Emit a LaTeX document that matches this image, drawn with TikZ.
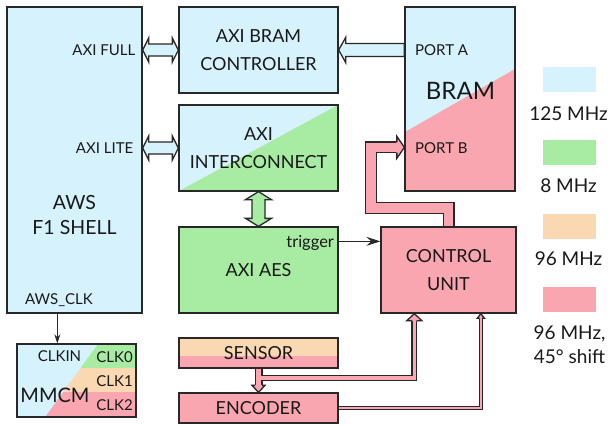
\documentclass[tikz,border=0pt]{standalone}
\usepackage{fontspec}
\setmainfont{Lato}
\usetikzlibrary{calc,arrows.meta}
\definecolor{cblue}{RGB}{214,242,252}
\definecolor{cgreen}{RGB}{168,236,164}
\definecolor{corange}{RGB}{249,216,178}
\definecolor{cpink}{RGB}{250,166,176}
\definecolor{cline}{RGB}{40,40,40}
\definecolor{ctext}{RGB}{25,25,25}
% horizontal double block arrow: left tip, right tip, colour
\newcommand\hdarrow[3]{\draw[outl, fill=#3] (#1) -- ++(6,-12) -- ++(0,6) -- ($(#2)+(-6,-6)$) -- ++(0,-6) -- (#2) -- ++(-6,12) -- ++(0,-6) -- ($(#1)+(6,6)$) -- ++(0,6) -- cycle;}
% vertical double block arrow: top tip, bottom tip, colour
\newcommand\vdarrow[3]{\draw[outl, fill=#3] (#1) -- ++(13,8) -- ++(-6.5,0) -- ($(#2)+(6.5,-8)$) -- ++(6.5,0) -- (#2) -- ++(-13,-8) -- ++(6.5,0) -- ($(#1)+(-6.5,8)$) -- ++(-6.5,0) -- cycle;}
% arrow head: tip, rotation, head half, length, shaft outline half, colour
\newcommand\ahead[6]{\begin{scope}[shift={(#1)}, rotate=#2]
  \fill[#6] (-#4-0.4,-#3) -- (0,0) -- (-#4-0.4,#3) -- cycle;
  \draw[outl] (-#4,-#5) -- (-#4,-#3) -- (0,0) -- (-#4,#3) -- (-#4,#5);
 \end{scope}}
\begin{document}
\begin{tikzpicture}[x=1pt,y=-1pt,
 box/.style={draw=cline, line width=1.3pt, inner sep=0pt, align=center, text=ctext, font=\fontsize{18}{27.5}\selectfont},
 lbl/.style={inner sep=0pt, text=ctext},
 smalllbl/.style={lbl, font=\fontsize{15}{15}\selectfont},
 outl/.style={draw=cline, line width=1.3pt, line join=miter},
 swatch/.style={inner sep=0pt, minimum width=53pt, minimum height=25pt},
 legtxt/.style={lbl, align=center, font=\fontsize{19}{24}\selectfont},
]
\useasboundingbox (0,0) rectangle (611,424);

% ---- blocks
\node[box, fill=cblue, minimum width=135pt, minimum height=306pt] (shell) at (74.5,160) {};
\node[box, fill=cblue, minimum width=159pt, minimum height=86pt] (ctrl) at (258.5,50) {AXI BRAM\\CONTROLLER};
\node[box, fill=cblue, minimum width=159pt, minimum height=86pt,
  path picture={\fill[cgreen] (path picture bounding box.south west) -- (path picture bounding box.north east) -- (path picture bounding box.south east) -- cycle;}] (ic) at (258.5,148) {AXI\\INTERCONNECT};
\node[box, fill=cgreen, minimum width=159pt, minimum height=86pt] (aes) at (258.5,270) {AXI AES};
\node[box, fill=cblue, minimum width=110pt, minimum height=184pt,
  path picture={\fill[cpink] ($(path picture bounding box.south west)+(0,-59)$) -- ($(path picture bounding box.south east)+(0,-122)$) -- (path picture bounding box.south east) -- (path picture bounding box.south west) -- cycle;}] (bram) at (460,99) {};
\node[box, fill=cpink, minimum width=135pt, minimum height=86pt] (cu) at (448.5,270) {CONTROL\\UNIT};
\node[box, fill=corange, minimum width=159pt, minimum height=30pt,
  path picture={\fill[cpink] ($(path picture bounding box.south west)+(0,-12)$) rectangle (path picture bounding box.south east);}] (sensor) at (258.5,353) {SENSOR};
\node[box, fill=cpink, minimum width=159pt, minimum height=30pt] (encoder) at (258.5,408) {ENCODER};
\node[box, fill=cblue, minimum width=119pt, minimum height=73pt,
  path picture={
   \coordinate (NW) at (path picture bounding box.north west);
   \fill[cgreen] ($(NW)+(81,0)$) -- ($(NW)+(119,0)$) -- ($(NW)+(119,24)$) -- ($(NW)+(63.6,24)$) -- cycle;
   \fill[corange] ($(NW)+(63.6,24)$) -- ($(NW)+(119,24)$) -- ($(NW)+(119,48)$) -- ($(NW)+(46.2,48)$) -- cycle;
   \fill[cpink] ($(NW)+(46.2,48)$) -- ($(NW)+(119,48)$) -- ($(NW)+(119,74)$) -- ($(NW)+(27.5,74)$) -- cycle;
  }] (mmcm) at (76.5,380.5) {};

% ---- texts inside blocks
\node[lbl, align=center, font=\fontsize{19.5}{24.5}\selectfont] (shelltxt) at (74.5,215) {AWS\\F1 SHELL};
\node[smalllbl, anchor=east] (axifull) at (135.5,50) {AXI FULL};
\node[smalllbl, anchor=east] (axilite) at (133.5,148) {AXI LITE};
\node[smalllbl, anchor=west] (awsclk) at (25,300.5) {AWS\_CLK};
\node[lbl, font=\fontsize{24}{24}\selectfont] (bramtxt) at (460.5,90.5) {BRAM};
\node[smalllbl, anchor=west] (porta) at (415,50.5) {PORT A};
\node[smalllbl, anchor=west] (portb) at (415,148) {PORT B};
\node[lbl, font=\fontsize{20}{20}\selectfont] (mmcmtxt) at (55,395) {MMCM};
\node[smalllbl] (clkin) at (59.5,356.5) {CLKIN};
\node[smalllbl, anchor=east] (clk0) at (133,357) {CLK0};
\node[smalllbl, anchor=east] (clk1) at (133,381) {CLK1};
\node[smalllbl, anchor=east] (clk2) at (133,405.5) {CLK2};

% ---- legend
\node[swatch, fill=cblue] (lg1) at (569.5,79.5) {};
\node[legtxt] (lt1) at (568.5,113.5) {125 MHz};
\node[swatch, fill=cgreen] (lg2) at (569.5,152.5) {};
\node[legtxt] (lt2) at (568.5,186) {8 MHz};
\node[swatch, fill=corange] (lg3) at (569.5,226.5) {};
\node[legtxt] (lt3) at (568.5,259) {96 MHz};
\node[swatch, fill=cpink] (lg4) at (569.5,299.5) {};
\node[legtxt] (lt4) at (569.5,345) {96 MHz,\\45° shift};

% ---- block arrows
\coordinate (fullL) at (ctrl.west -| shell.east);
\coordinate (liteL) at (ic.west -| shell.east);
\hdarrow{fullL}{ctrl.west}{cblue}
\hdarrow{liteL}{ic.west}{cblue}
\vdarrow{ic.south}{aes.north}{cgreen}
\coordinate (pa) at (ctrl.east -| bram.west);
\draw[outl, fill=cblue] (ctrl.east) -- ++(7,-12.5) -- ++(0,6) -- ($(pa)+(0,-6.5)$) -- ++(0,13) -- ($(ctrl.east)+(7,6.5)$) -- ++(0,6) -- cycle;

% PORT B feedback
\coordinate (pbS) at ($(cu.north)+(0,-0.65)$);
\coordinate (pbT) at ($(bram.north west)+(0,141)$);
\draw[line width=12pt, cline, line join=miter] (pbS) |- (371,208) |- ($(pbT)+(-7.5,0)$);
\draw[line width=9.4pt, cpink, line join=miter] (pbS) |- (371,208) |- ($(pbT)+(-7.5,0)$);
\ahead{pbT}{0}{11}{7.5}{5.35}{cpink}

% sensor -> encoder and sensor -> control unit
\coordinate (sS) at ($(sensor.south)+(0,0.65)$);
\coordinate (eN) at (encoder.north);
\coordinate (brT) at ($(cu.south west)+(34,0)$);
\draw[line width=6pt, cline, line join=miter] (sS) |- ($(brT)+(0,64.5)$) -- ($(brT)+(0,7)$);
\draw[line width=8pt, cline] (sS) -- ($(eN)+(0,-7)$);
\draw[line width=3.4pt, cpink, line join=miter] (sS) |- ($(brT)+(0,64.5)$) -- ($(brT)+(0,7)$);
\draw[line width=5.4pt, cpink] (sS) -- ($(eN)+(0,-7)$);
\ahead{eN}{-90}{6.5}{7}{3.35}{cpink}
\ahead{brT}{90}{7.5}{7}{2.35}{cpink}

% encoder -> control unit
\coordinate (eS) at ($(encoder.east)+(0.65,0)$);
\coordinate (eT) at ($(cu.south west)+(100.5,0)$);
\draw[line width=4pt, cline, line join=miter] (eS) -| ($(eT)+(0,4.5)$);
\draw[line width=1.6pt, cpink, line join=miter] (eS) -| ($(eT)+(0,4.5)$);
\ahead{eT}{90}{3.5}{4.5}{1.35}{cpink}

% trigger
\coordinate (trig) at ($(aes.north east)+(0,15)$);
\draw[line width=0.9pt, cline, -{Stealth[length=14pt,width=9pt,inset=5pt]}] (trig) -- (trig -| cu.west);
\node[lbl, anchor=east, font=\fontsize{16.5}{16.5}\selectfont] (trigtxt) at ($(trig)+(-4.5,1.5)$) {trigger};

% clock
\draw[line width=0.9pt, cline, -{Stealth[length=9pt,width=6pt]}] ($(shell.south west)+(51,0)$) -- ($(mmcm.north west)+(41,0)$);
\end{tikzpicture}
\end{document}
